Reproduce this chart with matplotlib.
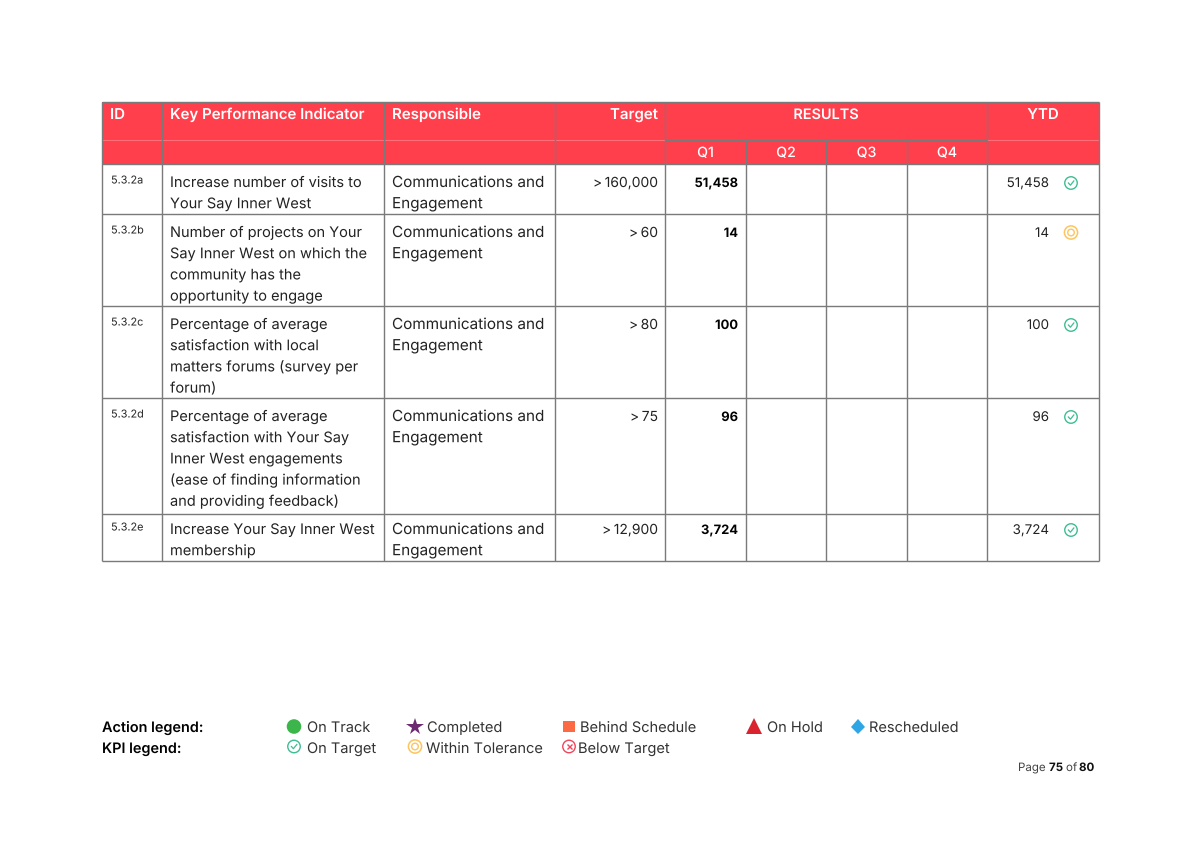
import matplotlib
matplotlib.use('Agg')
import matplotlib.pyplot as plt
import matplotlib.patheffects as pe
from matplotlib.patches import Rectangle

plt.rcParams['font.family'] = ['Inter', 'DejaVu Sans']
plt.rcParams['text.hinting'] = 'none'
plt.rcParams['text.hinting_factor'] = 1
# draws glyphs as paths so baselines do not snap to whole pixels
plt.rcParams['path.effects'] = [pe.Normal()]

# table content
ids = ['5.3.2a', '5.3.2b', '5.3.2c', '5.3.2d', '5.3.2e']
kpis = ['Increase number of visits to\nYour Say Inner West',
        'Number of projects on Your\nSay Inner West on which the\ncommunity has the\nopportunity to engage',
        'Percentage of average\nsatisfaction with local\nmatters forums (survey per\nforum)',
        'Percentage of average\nsatisfaction with Your Say\nInner West engagements\n(ease of finding information\nand providing feedback)',
        'Increase Your Say Inner West\nmembership']
responsible = ['Communications and\nEngagement'] * 5
targets = ['>\u2009160,000', '>\u200960', '>\u200980', '>\u200975', '>\u200912,900']
q1 = ['51,458', '14', '100', '96', '3,724']
ytd = ['51,458', '14', '100', '96', '3,724']
status = ['on_target', 'within', 'on_target', 'on_target', 'on_target']
quarters = ['Q1', 'Q2', 'Q3', 'Q4']

# layout in pixels
col_x = [102, 162, 384, 555, 665, 746, 826, 907, 987, 1099]
head_y = [102, 140, 164]
row_y = [164, 214, 306, 398, 514, 561]
row_pad = [0, 0, 0, 0, -3]

RED = '#ff3f4c'
LINE = '#7a7a7a'
TEXT = '#222222'
GREEN = '#3dbd93'
YELLOW = '#fdc55e'
HEAD_FS = 10.8
LINE_PX = 21.2

fig = plt.figure(figsize=(11.94, 8.44), dpi=100)
ax = fig.add_axes([0, 0, 1, 1])
ax.set_xlim(0, 1194)
ax.set_ylim(844, 0)
ax.axis('off')


def vline(x, y0, y1, lw=1.0, c=LINE):
    ax.plot([x, x], [y0, y1], color=c, lw=lw, solid_capstyle='butt')


def hline(y, x0, x1, lw=1.0, c=LINE):
    ax.plot([x0, x1], [y, y], color=c, lw=lw, solid_capstyle='butt')


def on_target(x, y, ms=9):
    ax.plot(x, y, 'o', ms=ms, mfc='none', mec=GREEN, mew=1.0)
    ax.plot([x - 2.6, x - 0.6, x + 2.8], [y, y + 2.2, y - 2], color=GREEN, lw=0.9)


def within(x, y, ms=9.5):
    ax.plot(x, y, 'o', ms=ms, mfc='none', mec=YELLOW, mew=1.1)
    ax.plot(x, y, 'o', ms=ms * 0.5, mfc='none', mec=YELLOW, mew=1.0)


def below(x, y, ms=9):
    ax.plot(x, y, 'o', ms=ms, mfc='none', mec='#f0455a', mew=1.0)
    ax.plot(x, y, 'x', ms=ms * 0.4, mec='#f0455a', mew=1.0)


def lines(x, y, s, fs):
    for n, part in enumerate(s.split('\n')):
        ax.text(x, y + n * LINE_PX, part, color=TEXT, fontsize=fs, ha='left', va='baseline')


# header
ax.add_patch(Rectangle((col_x[0], head_y[0]), col_x[-1] - col_x[0], head_y[2] - head_y[0],
                       fc=RED, ec='none'))
hline(head_y[1], col_x[0], col_x[4], lw=0.8, c='#ff7079')
hline(head_y[1], col_x[8], col_x[9], lw=0.8, c='#ff7079')
hline(head_y[1], col_x[4], col_x[8], lw=1.0)

heads = ['ID', 'Key Performance Indicator', 'Responsible']
for i, h in enumerate(heads):
    ax.text(col_x[i] + 8, 119, h, color='white', fontsize=HEAD_FS, fontweight='semibold',
            ha='left', va='baseline')
ax.text(col_x[4] - 7, 119, 'Target', color='white', fontsize=HEAD_FS, fontweight='semibold',
        ha='right', va='baseline')
ax.text((col_x[4] + col_x[8]) / 2, 119, 'RESULTS', color='white', fontsize=HEAD_FS - 0.4,
        fontweight='semibold', ha='center', va='baseline')
ax.text((col_x[8] + col_x[9]) / 2, 119, 'YTD', color='white', fontsize=HEAD_FS,
        fontweight='semibold', ha='center', va='baseline')
for i, q in enumerate(quarters):
    ax.text((col_x[4 + i] + col_x[5 + i]) / 2, 157, q, color='white', fontsize=10.2,
            fontweight='medium', ha='center', va='baseline')

# body rows
for i in range(len(ids)):
    top = row_y[i] + row_pad[i]
    ax.text(col_x[0] + 9, top + 19.5, ids[i], color=TEXT, fontsize=7.8, ha='left', va='baseline')
    lines(col_x[1] + 8, top + 23, kpis[i], 10.5)
    lines(col_x[2] + 8, top + 23, responsible[i], 11)
    ax.text(col_x[4] - 7, top + 23, targets[i], color=TEXT, fontsize=10, ha='right', va='baseline')
    ax.text(col_x[5] - 8, top + 23, q1[i], color='black', fontsize=9.3, fontweight='bold',
            ha='right', va='baseline')
    ax.text(col_x[9] - 50, top + 23, ytd[i], color=TEXT, fontsize=9.6, ha='right', va='baseline')
    if status[i] == 'on_target':
        on_target(col_x[9] - 28, top + 19)
    else:
        within(col_x[9] - 28, top + 18.5)

# grid lines, the quarter dividers stop at the RESULTS cell
for j, x in enumerate(col_x):
    vline(x, head_y[1] if j in (5, 6, 7) else head_y[0], row_y[-1])
for y in row_y:
    hline(y, col_x[0], col_x[-1])
hline(head_y[0], col_x[0], col_x[-1])

# legends
LEG_FS = 10.5
LEG = '#333333'
ax.text(102, 732, 'Action legend:', color='black', fontsize=10.4, fontweight='semibold', va='baseline')
ax.text(102, 753, 'KPI legend:', color='black', fontsize=10.4, fontweight='semibold', va='baseline')

ax.plot(294, 726.5, 'o', ms=10.5, color='#3cb54a', mec='none')
ax.text(307, 732, 'On Track', color=LEG, fontsize=LEG_FS, va='baseline')
ax.plot(415, 727, '*', ms=13, color='#6b2a72', mec='none')
ax.text(427, 732, 'Completed', color=LEG, fontsize=LEG_FS, va='baseline')
ax.plot(569, 726.5, 's', ms=8.5, color='#fb6a42', mec='none')
ax.text(580, 732, 'Behind Schedule', color=LEG, fontsize=LEG_FS, va='baseline')
ax.plot(754, 726, '^', ms=11, color='#d9232e', mec='none')
ax.text(767, 732, 'On Hold', color=LEG, fontsize=LEG_FS, va='baseline')
ax.plot(858, 726.5, 'D', ms=7.5, color='#2ea6e5', mec='none')
ax.text(869, 732, 'Rescheduled', color=LEG, fontsize=LEG_FS, va='baseline')

on_target(294, 746.5)
ax.text(307, 753, 'On Target', color=LEG, fontsize=LEG_FS, va='baseline')
within(415, 746.5)
ax.text(426, 753, 'Within Tolerance', color=LEG, fontsize=LEG_FS, va='baseline')
below(569, 746.5)
ax.text(578, 753, 'Below Target', color=LEG, fontsize=LEG_FS, va='baseline')

# page number
page_bits = [('Page', 1018, 'normal', '#444444'), ('75', 1049, 'bold', '#111111'),
             ('of', 1066, 'normal', '#444444'), ('80', 1079, 'bold', '#111111')]
for s, x, w, c in page_bits:
    ax.text(x, 771, s, color=c, fontsize=8.3, fontweight=w, ha='left', va='baseline')

fig.savefig('out.png', dpi=100, facecolor='white')
